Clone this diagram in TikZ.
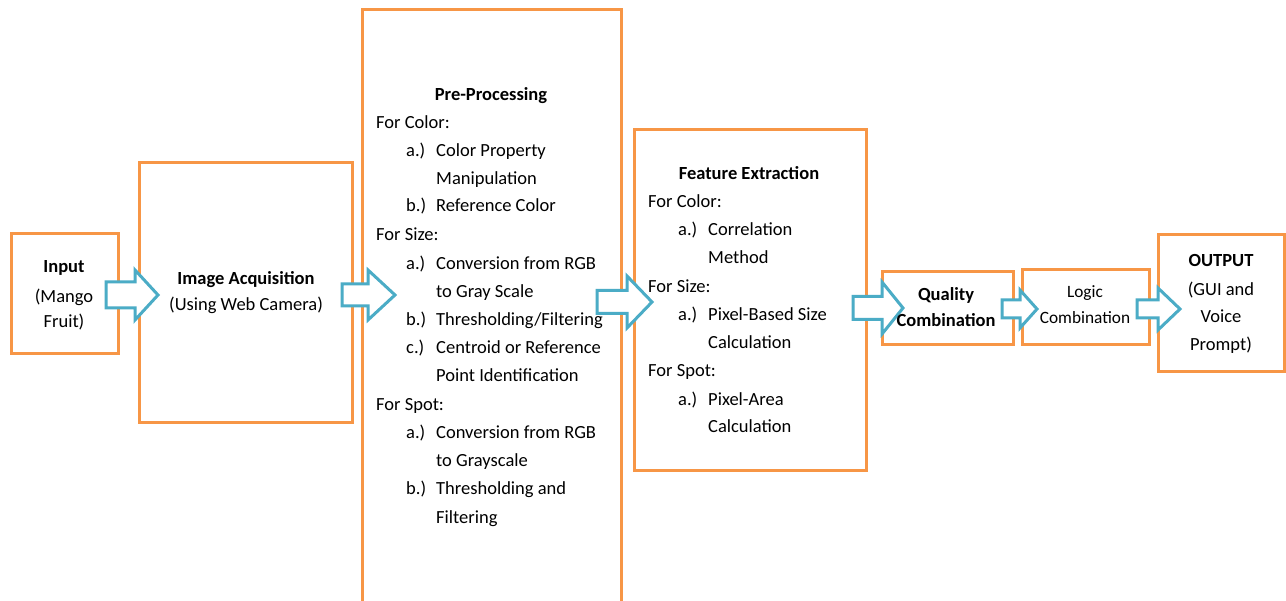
\documentclass[tikz,border=0pt]{standalone}
\usepackage{fontspec}
\setmainfont{Carlito}
\definecolor{boxorange}{RGB}{247,150,70}
\definecolor{flowteal}{RGB}{75,172,198}

% block arrow: x start, head base x, tip x, centre y, shaft half height, head half height
\newcommand{\flowarrow}[6]{%
  \draw[flow] (#1,#4-#5) -- (#2,#4-#5) -- (#2,#4-#6) -- (#3,#4)
    -- (#2,#4+#6) -- (#2,#4+#5) -- (#1,#4+#5) -- cycle;}

\begin{document}
\begin{tikzpicture}[x=1pt,y=-1pt,
  every node/.style={font=\fontsize{18.5}{27}\selectfont, inner sep=0pt},
  stage/.style={draw=boxorange, line width=3pt, fill=white},
  flow/.style={draw=flowteal, line width=3pt, fill=white, line join=miter},
  title/.style={font=\fontsize{18.5}{27}\selectfont\bfseries, anchor=base},
  line/.style={anchor=base west},
  mid/.style={anchor=base, align=center},
  small/.style={font=\fontsize{17.3}{24}\selectfont}]
\useasboundingbox (0,0) rectangle (1286,601);

% stage boxes
\node[stage, minimum width=107pt, minimum height=120pt] (input) at (64.5,294) {};
\node[stage, minimum width=213pt, minimum height=260pt] (acq) at (245.5,293) {};
\node[stage, minimum width=259pt, minimum height=592pt] (pre) at (491.5,306) {};
\node[stage, minimum width=232pt, minimum height=341pt] (feat) at (750,300.5) {};
\node[stage, minimum width=131pt, minimum height=73pt] (qual) at (947.5,308.5) {};
\node[stage, minimum width=127pt, minimum height=75pt] (logic) at (1085.5,307.5) {};
\node[stage, minimum width=126pt, minimum height=137pt] (out) at (1221,303.5) {};

% flow arrows between stages
\flowarrow{106}{135}{158}{295}{13}{25}
\flowarrow{342}{368}{395}{295}{11}{25}
\flowarrow{597}{627}{652}{302}{11.5}{26}
\flowarrow{853}{882}{903}{308}{11.5}{26}
\flowarrow{1002}{1020}{1037}{309}{9}{19}
\flowarrow{1137}{1158}{1180}{309}{9}{21}

% input
\node[title] (inT) at (64,273) {Input};
\node[mid] (inA) at (64,303) {(Mango};
\node[mid] (inB) at (64,328) {Fruit)};

% image acquisition
\node[title] (acqT) at (246,285) {Image Acquisition};
\node[mid] (acqA) at (246,311) {(Using Web Camera)};

% pre-processing
\node[title] (preT) at (491,101) {Pre-Processing};
\node[line] at (376,129) {For Color:};
\node[line] at (406,157) {a.)};
\node[line] at (436,157) {Color Property};
\node[line] at (436,185) {Manipulation};
\node[line] at (406,212) {b.)};
\node[line] at (436,212) {Reference Color};
\node[line] at (376,241) {For Size:};
\node[line] at (406,270) {a.)};
\node[line] at (436,270) {Conversion from RGB};
\node[line] at (436,298) {to Gray Scale};
\node[line] at (406,326) {b.)};
\node[line] at (436,326) {Thresholding/Filtering};
\node[line] at (406,354) {c.)};
\node[line] at (436,354) {Centroid or Reference};
\node[line] at (436,382) {Point Identification};
\node[line] at (376,411) {For Spot:};
\node[line] at (406,439) {a.)};
\node[line] at (436,439) {Conversion from RGB};
\node[line] at (436,467) {to Grayscale};
\node[line] at (406,495) {b.)};
\node[line] at (436,495) {Thresholding and};
\node[line] at (436,523) {Filtering};

% feature extraction
\node[title] (featT) at (749,180) {Feature Extraction};
\node[line] at (648,208) {For Color:};
\node[line] at (678,236) {a.)};
\node[line] at (708,236) {Correlation};
\node[line] at (708,264) {Method};
\node[line] at (648,293) {For Size:};
\node[line] at (678,321) {a.)};
\node[line] at (708,321) {Pixel-Based Size};
\node[line] at (708,349) {Calculation};
\node[line] at (648,377) {For Spot:};
\node[line] at (678,406) {a.)};
\node[line] at (708,406) {Pixel-Area};
\node[line] at (708,433) {Calculation};

% quality combination
\node[title] (qualA) at (946,301) {Quality};
\node[title] (qualB) at (946,327) {Combination};

% logic combination
\node[mid, small] (logA) at (1085,298) {Logic};
\node[mid, small] (logB) at (1085,324) {Combination};

% output
\node[title] (outT) at (1221,267) {OUTPUT};
\node[mid] (outA) at (1221,296) {(GUI and};
\node[mid] (outB) at (1221,323) {Voice};
\node[mid] (outC) at (1221,351) {Prompt)};
\end{tikzpicture}
\end{document}
